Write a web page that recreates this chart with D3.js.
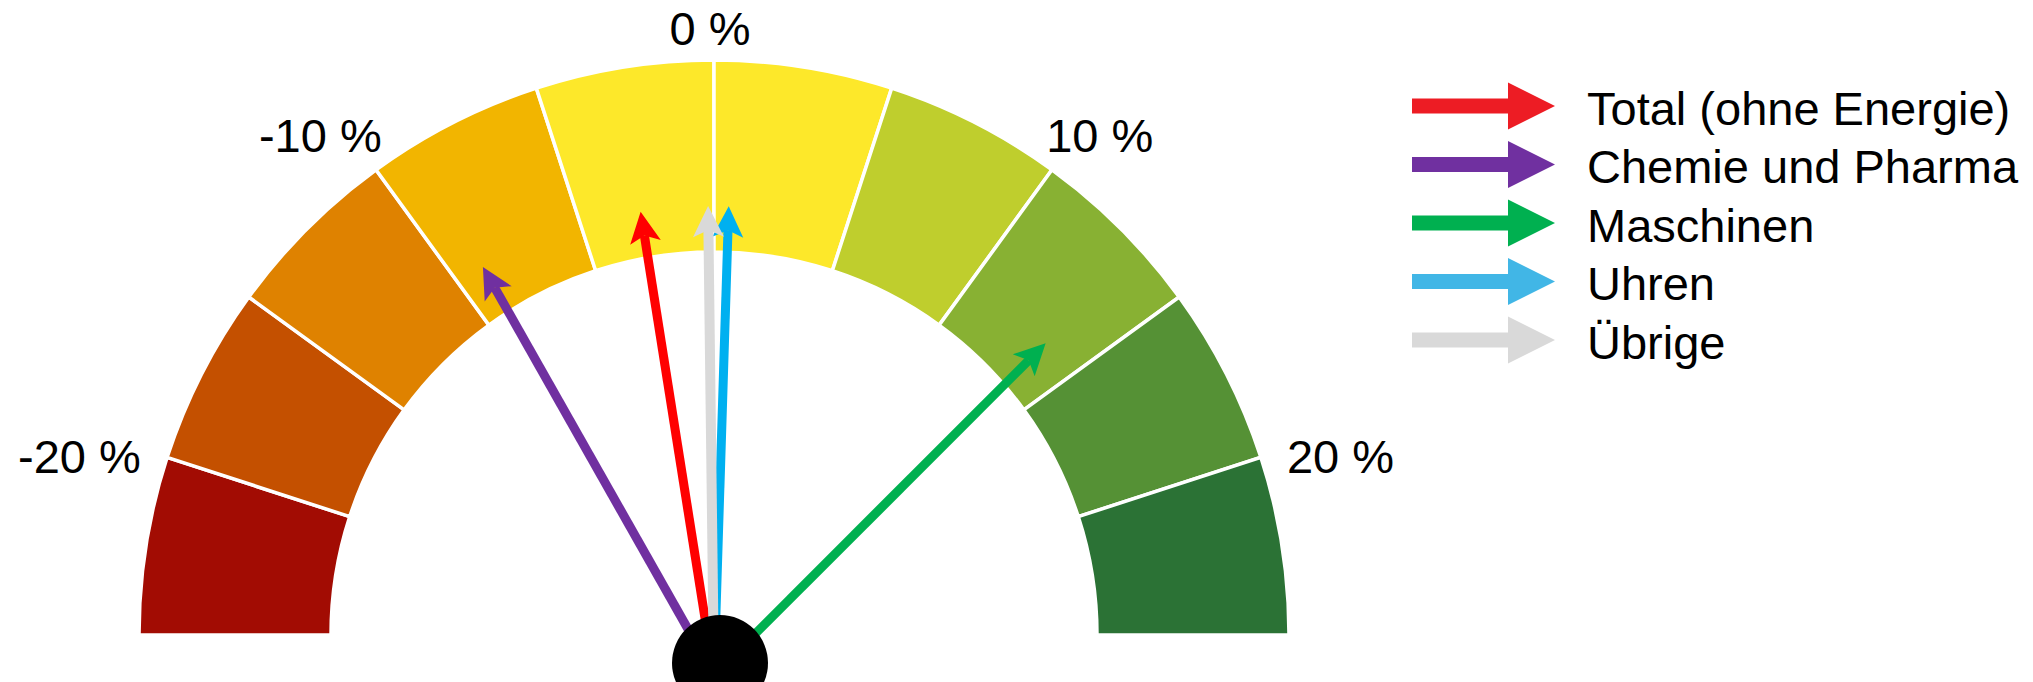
<!DOCTYPE html>
<html>
<head>
<meta charset="utf-8">
<script src="https://cdn.jsdelivr.net/npm/d3@7"></script>
<style>
  html, body { margin: 0; padding: 0; background: #ffffff; }
  svg { display: block; }
  text { font-family: "Liberation Sans", Arial, sans-serif; fill: #000; }
</style>
</head>
<body>
<svg id="chart" width="2033" height="682"></svg>
<script>
// ---- data ----
const categories = ["Total (ohne Energie)", "Chemie und Pharma", "Maschinen", "Uhren", "Übrige"];
const values = [-2.5, -8.2, 12.5, 0.5, -0.2];
const needleColors = ["#FF0000", "#7030A0", "#00B050", "#00B0F0", "#D9D9D9"];
const legendColors = ["#ED1C24", "#7030A0", "#00B050", "#41B6E6", "#D9D9D9"];
const bandStarts = [-25, -20, -15, -10, -5, 0, 5, 10, 15, 20];
const bandWidth = 5;
const bandColors = ["#A20C03", "#C45000", "#DF8200", "#F2B500", "#FDE82A",
                    "#FDE82A", "#BFCE2D", "#88B133", "#559135", "#2B7235"];
const tickValues = [-20, -10, 0, 10, 20];
const tickLabels = ["-20 %", "-10 %", "0 %", "10 %", "20 %"];
const drawOrder = [1, 2, 0, 3, 4];

// ---- layout ----
const svg = d3.select("#chart");
const cx = 714, cy = 635;
const outerR = 575, innerR = 383;
const needleOrigin = { x: cx, y: cy + 40 };
const needleLen = 469;
const fontSize = 47;

const angle = d3.scaleLinear().domain([-25, 25]).range([-Math.PI / 2, Math.PI / 2]);

// bands
const arc = d3.arc()
  .innerRadius(innerR)
  .outerRadius(outerR)
  .startAngle(d => angle(d))
  .endAngle(d => angle(d + bandWidth));

const gauge = svg.append("g").attr("transform", `translate(${cx},${cy})`);
gauge.selectAll("path.band")
  .data(bandStarts)
  .join("path")
  .attr("class", "band")
  .attr("d", arc)
  .attr("fill", (d, i) => bandColors[i])
  .attr("stroke", "#ffffff")
  .attr("stroke-width", 3.5)
  .attr("stroke-linejoin", "miter");

// tick labels (placed around the outer rim)
svg.append("g").selectAll("text")
  .data(tickValues)
  .join("text")
  .attr("x", d => cx + 663 * Math.sin(angle(d)) - 4)
  .attr("y", d => {
    const c = Math.cos(angle(d));
    return cy + 66 - 774 * c + 118 * c * c;
  })
  .attr("text-anchor", "middle")
  .attr("font-size", fontSize)
  .text((d, i) => tickLabels[i]);

// needles
const headLen = 31, headHalf = 15.5, notch = 24;
const needles = svg.append("g");
drawOrder.forEach(i => {
  const a = angle(values[i]);
  const dx = Math.sin(a), dy = -Math.cos(a);
  const tip = { x: needleOrigin.x + needleLen * dx, y: needleOrigin.y + needleLen * dy };
  const base = { x: tip.x - notch * dx, y: tip.y - notch * dy };
  needles.append("line")
    .attr("x1", needleOrigin.x).attr("y1", needleOrigin.y)
    .attr("x2", base.x).attr("y2", base.y)
    .attr("stroke", needleColors[i])
    .attr("stroke-width", i === 4 ? 10 : 9);
  const deg = a * 180 / Math.PI;
  needles.append("path")
    .attr("d", `M0,0 L${headHalf},${headLen} L0,${notch} L${-headHalf},${headLen} Z`)
    .attr("transform", `translate(${tip.x},${tip.y}) rotate(${deg})`)
    .attr("fill", needleColors[i]);
});

// pivot
svg.append("circle")
  .attr("cx", cx + 6)
  .attr("cy", cy + 28)
  .attr("r", 48)
  .attr("fill", "#000000");

// legend
const legX = 1412, legY0 = 106, legStep = 58.5;
const shaftLen = 96, shaftHalf = 7.5, lHeadLen = 47, lHeadHalf = 23.5;
const legend = svg.append("g");
categories.forEach((c, i) => {
  const y = legY0 + i * legStep;
  legend.append("path")
    .attr("d", `M${legX},${y - shaftHalf} L${legX + shaftLen},${y - shaftHalf} L${legX + shaftLen},${y - lHeadHalf} ` +
               `L${legX + shaftLen + lHeadLen},${y} L${legX + shaftLen},${y + lHeadHalf} L${legX + shaftLen},${y + shaftHalf} ` +
               `L${legX},${y + shaftHalf} Z`)
    .attr("fill", legendColors[i]);
  legend.append("text")
    .attr("x", 1587)
    .attr("y", y + 18.5)
    .attr("font-size", fontSize)
    .text(c);
});
</script>
</body>
</html>
